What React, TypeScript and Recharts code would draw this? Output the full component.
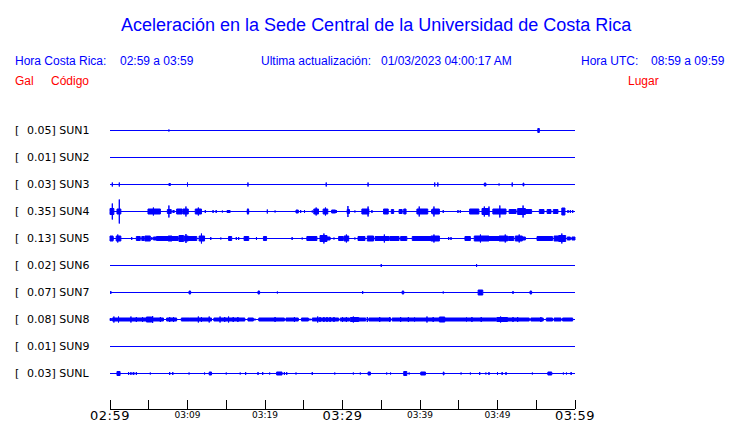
import React from "react";
import { ComposedChart, Area, XAxis, YAxis } from "recharts";

const stations = ["SUN1", "SUN2", "SUN3", "SUN4", "SUN5", "SUN6", "SUN7", "SUN8", "SUN9", "SUNL"];
const fullScale = ["0.05", "0.01", "0.03", "0.35", "0.13", "0.02", "0.07", "0.08", "0.01", "0.03"];
const places = [
  "CIMAR",
  "Ingenieria P01",
  "Ingenieria P06",
  "EBCI",
  "Rectoria",
  "Agroalimentarias",
  "Archivo",
  "Electrica P06",
  "Electrica P01",
  "LANAMME-CTT",
];

// minutes after 02:59
const minuteTicks = [0, 5, 10, 15, 20, 25, 30, 35, 40, 45, 50, 55, 60];
const minuteLabels = ["02:59", "", "03:09", "", "03:19", "", "03:29", "", "03:39", "", "03:49", "", "03:59"];
const majorLabels = ["02:59", "03:29", "03:59"];

// bursts: [start minute, end minute, half amplitude]
const sun1 = [[7.6, 7.6, 1], [55.2, 55.4, 2]];
const sun2: number[][] = [];
const sun3 = [
  [0.3, 0.3, 2], [1.2, 1.2, 2], [7.6, 7.8, 1], [10.0, 10.0, 2], [17.8, 17.8, 2],
  [27.9, 27.9, 2], [33.3, 33.3, 2], [41.9, 41.9, 2], [42.3, 42.3, 2], [48.3, 48.5, 1.5],
  [50.2, 50.2, 1], [51.9, 51.9, 2], [53.3, 53.4, 1.5],
];
const sun4 = [
  [0.0, 0.5, 3], [0.3, 0.3, 8], [0.9, 1.4, 2.5], [1.2, 1.2, 12], [4.9, 6.5, 2.5], [5.6, 5.6, 4],
  [7.4, 7.9, 2], [7.6, 7.6, 6], [8.1, 8.3, 1], [8.6, 9.3, 2.5], [9.4, 10.1, 2.5], [9.8, 9.8, 5],
  [11.0, 11.8, 2.5], [11.4, 11.4, 4], [12.3, 12.3, 1.5], [13.3, 13.3, 1.5], [13.7, 13.7, 1.5],
  [14.5, 14.5, 1], [15.1, 15.5, 1], [17.7, 17.9, 2], [17.8, 17.8, 3], [20.3, 20.3, 2],
  [21.3, 21.3, 1], [24.0, 24.3, 1.5], [24.6, 24.6, 1.5], [25.1, 25.1, 1.5], [26.1, 26.1, 1],
  [26.3, 26.9, 2.5], [26.6, 26.6, 4], [27.5, 28.1, 2.5], [27.8, 27.8, 4], [28.6, 29.1, 1.5],
  [29.2, 29.2, 1.5], [30.6, 30.9, 2], [30.7, 30.7, 5.5], [31.6, 31.6, 1], [32.5, 33.4, 2.5],
  [33.3, 33.3, 5], [33.8, 33.8, 1.5], [35.3, 35.9, 2.5], [36.3, 36.6, 2], [37.3, 37.7, 2],
  [37.9, 38.2, 2.5], [39.6, 41.0, 2.5], [39.9, 39.9, 5], [41.5, 41.5, 2], [41.6, 42.5, 2.5],
  [41.8, 41.8, 5], [43.0, 43.0, 1.5], [44.9, 44.9, 1.5], [45.2, 45.2, 1.5], [46.4, 47.6, 2.5],
  [48.0, 48.9, 3], [48.3, 48.3, 5], [48.9, 48.9, 5], [49.4, 51.1, 2.5], [50.3, 50.3, 6],
  [51.5, 52.4, 2], [52.6, 53.6, 3], [53.3, 53.3, 6], [53.6, 54.4, 2], [55.4, 56.0, 2],
  [56.4, 56.9, 2], [57.2, 57.8, 2], [58.3, 58.7, 3.5], [59.1, 59.1, 1.5], [59.4, 59.4, 1.5],
  [59.7, 59.7, 1.5],
];
const sun5 = [
  [0.0, 0.4, 2.5], [0.4, 0.4, 1], [0.8, 1.4, 2.5], [1.0, 1.0, 4], [2.8, 2.8, 1.5], [3.4, 3.9, 2],
  [4.1, 4.4, 2], [4.5, 5.2, 2.5], [5.4, 5.4, 1.5], [5.6, 6.0, 1.5], [6.0, 7.5, 2], [7.5, 8.0, 2.5],
  [8.0, 8.8, 2], [8.9, 9.5, 3], [9.6, 10.1, 2.5], [9.8, 9.8, 4.5], [10.1, 11.2, 2], [11.5, 12.2, 2.5],
  [11.8, 11.8, 5], [13.0, 13.0, 1.5], [14.3, 14.3, 1], [15.3, 15.7, 2], [16.3, 16.3, 1.5],
  [16.6, 16.6, 1.5], [17.3, 17.9, 2], [18.9, 18.9, 1.5], [19.8, 20.2, 2], [23.5, 23.5, 1.5],
  [24.8, 24.8, 1], [25.4, 26.7, 2], [27.1, 28.0, 3], [27.6, 27.6, 5], [28.0, 28.4, 1.5],
  [28.9, 28.9, 1], [29.5, 30.1, 2], [30.2, 30.8, 2.5], [30.5, 30.5, 4], [31.6, 31.6, 1],
  [32.0, 32.9, 2], [33.2, 34.0, 2.5], [34.2, 36.0, 2], [35.4, 35.4, 4], [36.1, 37.3, 2],
  [37.5, 38.3, 2], [39.0, 41.4, 2], [41.4, 42.5, 2.5], [41.8, 41.8, 4], [43.7, 43.7, 1.5],
  [44.0, 44.0, 1.5], [45.8, 46.5, 2], [47.0, 48.9, 2.5], [47.8, 47.8, 4], [48.9, 50.2, 2],
  [50.2, 51.3, 2.5], [51.0, 51.0, 4], [51.4, 52.1, 2], [52.3, 53.2, 2.5], [52.8, 52.8, 4],
  [53.2, 53.6, 1.5], [55.1, 57.1, 2], [57.3, 57.9, 2.5], [57.9, 58.8, 3], [58.3, 58.3, 5],
  [59.0, 59.4, 1.5], [59.6, 60.0, 1.5],
];
const sun6 = [[35.0, 35.0, 1.5], [47.3, 47.3, 1.5]];
const sun7 = [
  [0.1, 0.1, 1.5], [10.2, 10.4, 1.5], [19.1, 19.3, 1.5], [21.6, 21.6, 1], [32.6, 32.6, 1.5],
  [37.7, 37.9, 1.5], [43.0, 43.0, 1], [47.5, 48.1, 2.5], [52.0, 52.0, 1.5], [54.2, 54.4, 1.5],
];
const sun8 = [
  [0.0, 0.2, 1], [0.3, 6.9, 1.5], [0.5, 0.5, 3], [1.1, 1.1, 3], [2.7, 2.7, 3], [3.4, 3.4, 2.5],
  [4.2, 4.2, 2.5], [4.7, 5.4, 2.5], [5.5, 5.5, 3.5], [6.5, 6.5, 2.5], [7.3, 8.6, 1.5], [7.7, 7.7, 2.5],
  [8.2, 8.2, 2.5], [9.2, 10.3, 1.5], [10.3, 13.1, 1.5], [11.4, 11.4, 3], [11.8, 11.8, 2.5],
  [12.8, 12.8, 3], [13.4, 17.4, 1.5], [14.2, 14.2, 3], [14.8, 14.8, 2.5], [15.3, 15.3, 3],
  [15.9, 15.9, 2.5], [16.5, 16.5, 2.5], [17.8, 18.5, 1.5], [18.7, 18.7, 1], [19.2, 22.5, 1.5],
  [21.3, 21.3, 2.5], [22.7, 23.8, 1.5], [23.8, 24.3, 1.5], [23.8, 23.8, 2.5], [24.7, 25.6, 1.5],
  [25.8, 25.8, 1], [26.1, 29.5, 1.5], [26.8, 26.8, 3], [27.1, 27.1, 2.5], [27.6, 27.6, 2.5],
  [28.0, 28.0, 2.5], [28.4, 28.4, 2.5], [28.9, 28.9, 2.5], [29.7, 30.9, 1.5], [30.0, 30.0, 2.5],
  [30.5, 30.5, 2.5], [31.0, 32.1, 2], [31.4, 31.4, 3], [32.1, 33.0, 1.5], [33.2, 33.2, 2.5],
  [33.4, 36.2, 1.5], [34.8, 34.8, 2.5], [36.1, 36.1, 2.5], [36.4, 40.5, 1.5], [37.5, 37.5, 2.5],
  [38.5, 38.5, 2.5], [39.3, 39.3, 2], [40.5, 43.3, 1.5], [40.9, 40.9, 3], [41.7, 41.7, 2.5],
  [42.5, 43.2, 2.5], [43.3, 49.8, 1.5], [46.0, 46.0, 2], [46.7, 46.7, 2.5], [47.9, 47.9, 2.5],
  [49.9, 51.3, 2], [50.4, 50.4, 3], [50.9, 50.9, 2.5], [51.3, 54.1, 1.5], [52.0, 52.0, 2.5],
  [52.6, 52.6, 2.5], [54.3, 55.9, 1.5], [55.6, 55.6, 2.5], [56.3, 57.1, 1.5], [57.3, 58.2, 1.5],
  [58.4, 59.7, 1.5],
];
const sun9: number[][] = [];
const sunl = [
  [0.9, 1.3, 2], [2.4, 2.4, 1.5], [2.7, 2.7, 1.5], [3.0, 3.0, 1.5], [3.1, 3.1, 1], [3.4, 3.4, 1.5],
  [5.2, 5.2, 1], [7.7, 7.7, 1.5], [8.1, 8.1, 1.5], [10.2, 10.2, 1], [12.2, 12.2, 1],
  [12.8, 13.1, 1.5], [15.0, 15.0, 1], [16.8, 16.8, 1], [17.5, 17.5, 1.5], [19.1, 19.1, 1.5],
  [19.7, 19.7, 1.5], [20.6, 20.6, 1], [21.5, 22.2, 1.5], [22.5, 22.5, 1.5], [22.8, 22.8, 1.5],
  [24.0, 24.0, 1], [26.1, 26.1, 1.5], [29.0, 29.0, 1], [31.4, 31.4, 1], [32.3, 32.3, 1],
  [33.3, 33.6, 1.5], [35.7, 35.7, 1], [36.2, 36.2, 1], [37.9, 38.3, 2], [38.6, 38.6, 1],
  [40.1, 40.7, 1.5], [43.0, 43.1, 1.5], [45.3, 45.3, 1], [46.5, 46.5, 1], [47.7, 47.7, 1.5],
  [48.5, 48.5, 1], [48.9, 48.9, 1.5], [50.0, 50.0, 1.5], [50.6, 50.6, 1.5], [51.1, 51.1, 1.5],
  [54.5, 54.5, 1], [56.5, 57.0, 1.5], [58.5, 58.5, 1], [58.9, 58.9, 1], [59.5, 59.5, 1.5],
];
const bursts = [sun1, sun2, sun3, sun4, sun5, sun6, sun7, sun8, sun9, sunl];

const BLUE = "#0000ff";
const RED = "#ff0000";
const TOP = 292;
const BAND = 27;
const baseOf = (i: number) => TOP - BAND / 2 - BAND * i;
const baselines = stations.map((_, i) => baseOf(i));

function buildTrace(list: number[][], base: number) {
  const sorted = [...list].sort((a, b) => a[0] - b[0]);
  const pts: { t: number; v: number[] }[] = [{ t: 0, v: [base, base] }];
  for (const [t0, t1, a] of sorted) {
    pts.push({ t: t0, v: [base, base] });
    pts.push({ t: t0, v: [base - a, base + a] });
    if (t1 !== t0) pts.push({ t: t1, v: [base - a, base + a] });
    pts.push({ t: t1, v: [base, base] });
  }
  pts.push({ t: 60, v: [base, base] });
  return pts;
}

const idxOf = (v: number) => Math.round((TOP - BAND / 2 - v) / BAND);

const LeftTick = (props: any) => {
  const i = idxOf(props.payload.value);
  return (
    <text y={props.y} dy="0.35em" fontSize={11} fontFamily="DejaVu Sans" fill="#000">
      <tspan x={15}>[</tspan>
      <tspan x={27}>{fullScale[i]}] {stations[i]}</tspan>
    </text>
  );
};

const RightTick = (props: any) => {
  const i = idxOf(props.payload.value);
  return (
    <text x={587} y={props.y} dy="0.35em" fontSize={11} fontFamily="DejaVu Sans" fill="#000">
      {places[i]}
    </text>
  );
};

const TimeTick = (props: any) => {
  const { x, y, payload } = props;
  const label = minuteLabels[minuteTicks.indexOf(payload.value)];
  const major = majorLabels.includes(label);
  return (
    <g>
      <line x1={x} x2={x} y1={y - 9} y2={y} stroke="#000" shapeRendering="crispEdges" />
      {label ? (
        <text
          x={x}
          y={y + (major ? 11 : 9)}
          textAnchor="middle"
          fontSize={major ? 13 : 9}
          letterSpacing={major ? 0.5 : 0}
          fontFamily="DejaVu Sans"
          fill="#000"
        >
          {label}
        </text>
      ) : null}
    </g>
  );
};

const txt = (left: number, top: number, color: string, size: number, s: string) => (
  <div
    style={{
      position: "absolute",
      left,
      top,
      color,
      fontSize: size,
      lineHeight: `${size + 2}px`,
      fontFamily: "Liberation Sans",
      whiteSpace: "pre",
    }}
  >
    {s}
  </div>
);

export default function App() {
  return (
    <div
      style={{
        position: "absolute",
        left: 0,
        top: 0,
        width: 740,
        height: 423,
        background: "#fff",
        overflow: "hidden",
      }}
    >
      {txt(121, 15, BLUE, 18, "Aceleración en la Sede Central de la Universidad de Costa Rica")}
      {txt(15, 54, BLUE, 12, "Hora Costa Rica:")}
      {txt(120, 54, BLUE, 12, "02:59 a 03:59")}
      {txt(261, 54, BLUE, 12, "Ultima actualización:")}
      {txt(381, 54, BLUE, 12, "01/03/2023 04:00:17 AM")}
      {txt(581, 54, BLUE, 12, "Hora UTC:")}
      {txt(651, 54, BLUE, 12, "08:59 a 09:59")}
      {txt(15, 74, RED, 12, "Gal")}
      {txt(51, 74, RED, 12, "Código")}
      {txt(628, 74, RED, 12, "Lugar")}

      <div style={{ position: "absolute", left: 0, top: 0 }}>
        <ComposedChart width={740} height={423} margin={{ top: 117, right: 0, bottom: 0, left: 0 }}>
          <XAxis
            dataKey="t"
            type="number"
            domain={[0, 60]}
            ticks={minuteTicks}
            interval={0}
            height={14}
            tickSize={0}
            tickMargin={0}
            tickLine={false}
            axisLine={{ stroke: "#000", shapeRendering: "crispEdges" }}
            tick={<TimeTick />}
          />
          <YAxis
            yAxisId="l"
            type="number"
            domain={[0, TOP]}
            ticks={baselines}
            interval={0}
            width={110}
            axisLine={false}
            tickLine={false}
            tick={<LeftTick />}
          />
          <YAxis
            yAxisId="r"
            orientation="right"
            type="number"
            domain={[0, TOP]}
            ticks={baselines}
            interval={0}
            width={165}
            axisLine={false}
            tickLine={false}
            tick={<RightTick />}
          />
          {bursts.map((list, i) => (
            <Area
              key={stations[i]}
              yAxisId="l"
              data={buildTrace(list, baseOf(i))}
              dataKey="v"
              type="linear"
              stroke={BLUE}
              strokeWidth={1}
              fill={BLUE}
              fillOpacity={1}
              dot={false}
              activeDot={false}
              isAnimationActive={false}
            />
          ))}
        </ComposedChart>
      </div>
    </div>
  );
}
